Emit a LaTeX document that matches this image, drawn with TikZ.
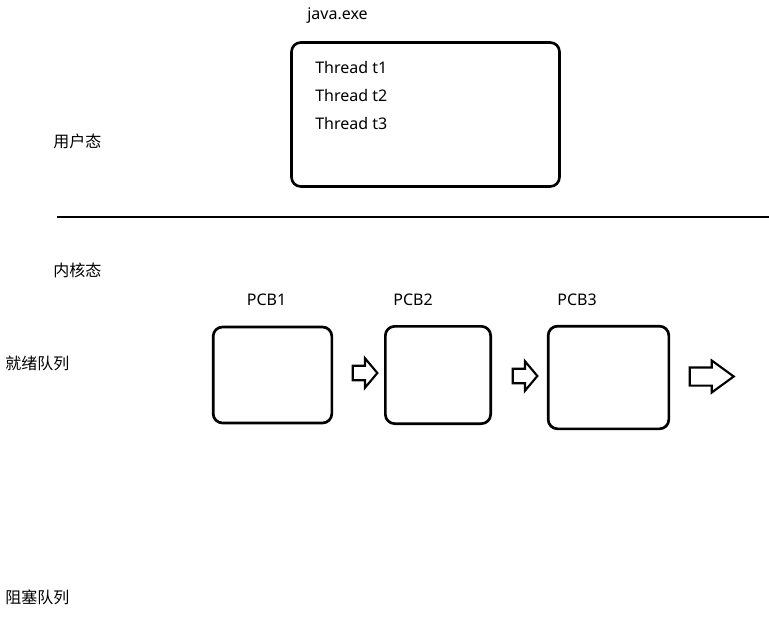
\documentclass[tikz,border=0pt]{standalone}
\usepackage{fontspec}
\setmainfont{Noto Sans}
\newfontfamily\cjk{Noto Sans CJK SC}
\usetikzlibrary{shapes.arrows}
\begin{document}
\begin{tikzpicture}[x=0.75pt, y=-0.75pt,
    every node/.style={font=\fontsize{12}{14}\selectfont},
    label text/.style={inner sep=0pt},
    cn text/.style={inner sep=0pt, anchor=west, font=\fontsize{12}{14}\selectfont\cjk},
    pcbbox/.style={draw, line width=2pt, rounded corners=7pt},
    hollow arrow/.style={draw, single arrow, line width=1.6pt, inner xsep=0pt, minimum size=0pt}
  ]
    \useasboundingbox (0,0) rectangle (769,629);

    % user space: the process and its threads
    \node [label text] (java) at (337.5,16) {java.exe};
    \node [pcbbox, minimum width=201pt, minimum height=108pt] (proc) at (425.5,114.5) {};
    \node [label text, anchor=west] (t1) at (315,67) {Thread t1};
    \node [label text, anchor=west] (t2) at (315,95) {Thread t2};
    \node [label text, anchor=west] (t3) at (315,123) {Thread t3};
    \node [cn text] (user) at (53,141) {用户态};

    % boundary between user and kernel mode
    \draw [line width=2.2pt] (57,217) -- (769,217);
    \node [cn text] (kernel) at (53,270) {内核态};

    % ready queue of PCBs
    \node [cn text] (ready) at (5,363) {就绪队列};
    \node [label text] (pcb1label) at (266.5,300) {PCB1};
    \node [label text] (pcb2label) at (413,300) {PCB2};
    \node [label text] (pcb3label) at (577,300) {PCB3};
    \node [pcbbox, minimum width=89pt, minimum height=72pt] (pcb1) at (272.5,375) {};
    \node [pcbbox, minimum width=79pt, minimum height=73pt] (pcb2) at (438,375) {};
    \node [pcbbox, minimum width=90.5pt, minimum height=77pt] (pcb3) at (608.5,377.5) {};

    \node [hollow arrow, inner ysep=4.6pt, single arrow head extend=5.6pt,
        single arrow tip angle=100, minimum height=18.5pt] (next1) at (362,373) {};
    \node [hollow arrow, inner ysep=4.6pt, single arrow head extend=5.6pt,
        single arrow tip angle=100, minimum height=18.5pt] (next2) at (522,376) {};
    \node [hollow arrow, inner ysep=6pt, single arrow head extend=5.2pt,
        single arrow tip angle=72, minimum height=33pt] (next3) at (705.5,376.5) {};

    % blocked queue
    \node [cn text] (blocked) at (5,597) {阻塞队列};
\end{tikzpicture}
\end{document}
